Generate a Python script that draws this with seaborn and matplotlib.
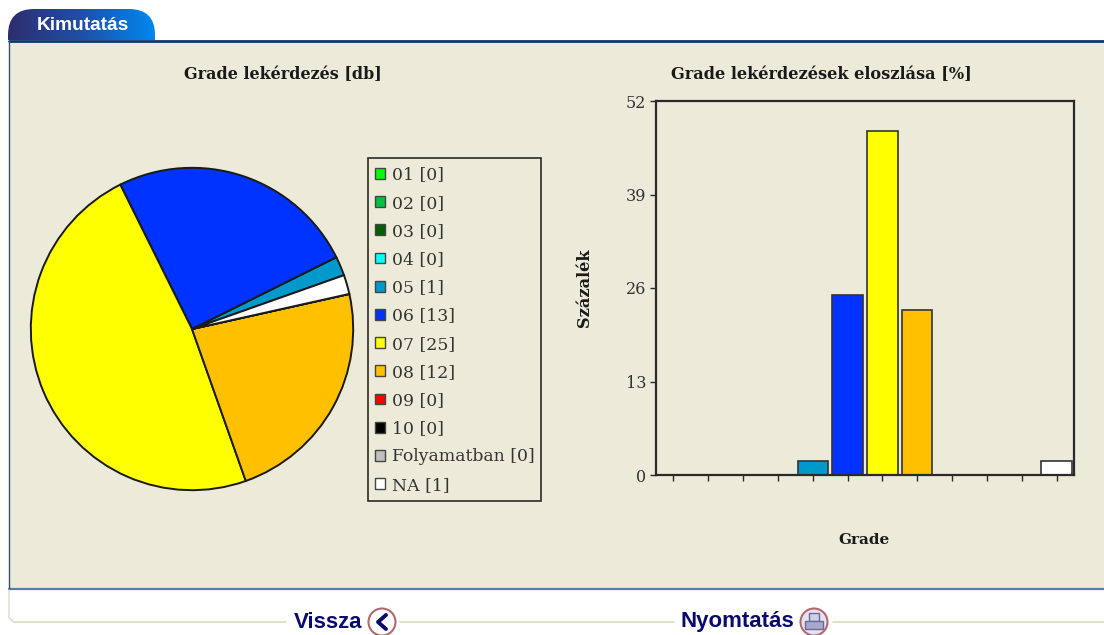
import numpy as np
import pandas as pd
import matplotlib
matplotlib.use('Agg')
import matplotlib.pyplot as plt
import seaborn as sns
from matplotlib.patches import Rectangle, FancyBboxPatch, Circle, Patch

sns.set_theme(style='white')
plt.rcParams['font.family'] = ['DejaVu Serif']

# data
grades = ['01', '02', '03', '04', '05', '06', '07', '08', '09', '10', 'Folyamatban', 'NA']
counts = [0, 0, 0, 0, 1, 13, 25, 12, 0, 0, 0, 1]
percents = [0, 0, 0, 0, 1.9, 25, 47.8, 22.9, 0, 0, 0, 1.9]
colors = ['#00ff00', '#00c040', '#006000', '#00ffff', '#0099cc', '#0033ff',
          '#ffff00', '#ffc000', '#ff0000', '#000000', '#c0c0c0', '#ffffff']
y_ticks = [0, 13, 26, 39, 52]

W, H = 1104, 635
PANEL = '#ecebd9'
DARK = '#2a2a2a'
LINK = '#0a0a6e'


def axes_px(fig, left, top, right, bottom):
    # axes from pixel box of the reference
    return fig.add_axes([left / W, 1 - bottom / H, (right - left) / W, (bottom - top) / H])


fig = plt.figure(figsize=(W / 100, H / 100), dpi=100, facecolor='white')

# page chrome in pixel coordinates
bg = fig.add_axes([0, 0, 1, 1])
bg.set_xlim(0, W)
bg.set_ylim(H, 0)
bg.axis('off')
bg.add_patch(Rectangle((9, 41), W, 548, fc=PANEL, ec='none'))
bg.plot([9, W], [40.5, 40.5], color='#0b3a70', lw=2)
bg.plot([9, W], [589, 589], color='#5f7aa3', lw=1.6)
bg.plot([9, 9], [41, 589], color='#34507a', lw=1)
bg.plot([9, 9, 14], [590, 618, 622], color='#dcdcc0', lw=1)
bg.plot([14, 286], [622, 622], color='#dcdcc0', lw=1.2)
bg.plot([400, 674], [622, 622], color='#dcdcc0', lw=1.2)
bg.plot([833, W], [622, 622], color='#dcdcc0', lw=1.2)

# tab with gradient, only the top corners are round
grad = np.linspace(0, 1, 256).reshape(1, -1)
tab_cmap = matplotlib.colors.LinearSegmentedColormap.from_list('tab', ['#2e2d6e', '#1f4fa8', '#0088f0'])
im = bg.imshow(grad, extent=(8, 155, 40, 9), cmap=tab_cmap, aspect='auto', zorder=2)
clip = FancyBboxPatch((8, 9), 147, 70, boxstyle='round,pad=0,rounding_size=26', fc='none', ec='none',
                      transform=bg.transData)
bg.add_patch(clip)
im.set_clip_path(clip)
bg.set_xlim(0, W)
bg.set_ylim(H, 0)
bg.text(83, 25, 'Kimutatás', color='white', fontsize=13.8, fontweight='bold',
        family='Liberation Sans', ha='center', va='center', zorder=3)

# footer links
bg.text(294, 622, 'Vissza', color=LINK, fontsize=16, fontweight='bold',
        family='Liberation Sans', ha='left', va='center')
bg.text(681, 621, 'Nyomtatás', color=LINK, fontsize=16, fontweight='bold',
        family='Liberation Sans', ha='left', va='center')
bg.add_patch(Circle((382, 622), 13.5, fc='white', ec='#b06a70', lw=1.5))
bg.plot([386, 378, 386], [615, 622, 629], color=LINK, lw=2.8)
bg.add_patch(Circle((814, 622), 13.5, fc='#e4e4f0', ec='#b06a70', lw=1.5))
bg.add_patch(Rectangle((809, 613), 10, 8, fc='#d0d0e4', ec='#6a6a9a', lw=1))
bg.add_patch(Rectangle((805, 621), 18, 8, fc='#a8a8cc', ec='#6a6a9a', lw=1))

# pie
ax1 = axes_px(fig, 30, 167, 354, 491)
ax1.patch.set_alpha(0)
wedges, _ = ax1.pie(counts, colors=colors, startangle=19.5, counterclock=True, radius=1,
                    wedgeprops=dict(edgecolor='#1a1a1a', linewidth=1.4))
ax1.set_xlim(-1.005, 1.005)
ax1.set_ylim(-1.005, 1.005)

bg.text(283, 75, 'Grade lekérdezés [db]', fontsize=11.5, fontweight='bold', color='#1a1a1a',
        ha='center', va='center')

# legend, frame drawn separately so it sits on the exact box
bg.add_patch(Rectangle((368, 157.5), 173, 343, fc='none', ec=DARK, lw=1.2))
handles = [Patch(fc=c, ec='#444444', lw=1) for c in colors]
labels = [f'{g} [{n}]' for g, n in zip(grades, counts)]
leg = fig.legend(handles, labels, loc='upper left',
                 bbox_to_anchor=(375 / W, 1 - 166.5 / H), bbox_transform=fig.transFigure,
                 fontsize=12.4, frameon=False, handlelength=0.6, handleheight=0.6, handletextpad=0.38,
                 labelspacing=0.65, borderpad=0, borderaxespad=0, labelcolor='#333333')

# bar chart
df = pd.DataFrame({'grade': grades, 'percent': percents})
ax2 = axes_px(fig, 656, 101, 1074, 475)
ax2.patch.set_alpha(0)
sns.barplot(data=df, x='grade', y='percent', hue='grade', palette=colors, order=grades,
            legend=False, width=0.87, saturation=1, edgecolor='#333333', linewidth=1.2, ax=ax2)
ax2.set_xlim(-0.5, 11.5)
ax2.set_ylim(0, 52)
ax2.set_yticks(y_ticks)
ax2.set_xticks(range(len(grades)))
ax2.set_xticklabels([])
ax2.tick_params(axis='both', length=4, width=1, color=DARK, bottom=True, left=True)
ax2.tick_params(axis='y', labelsize=11.5, labelcolor='#333333', pad=3)
ax2.set_xlabel('')
ax2.set_ylabel('')
for s in ax2.spines.values():
    s.set_color(DARK)
    s.set_linewidth(1.6)

bg.text(821, 75, 'Grade lekérdezések eloszlása [%]', fontsize=11.6, fontweight='bold', color='#1a1a1a',
        ha='center', va='center')
bg.text(584, 288, 'Százalék', fontsize=11.6, fontweight='bold', color='#1a1a1a',
        rotation=90, ha='center', va='center')
bg.text(864, 540, 'Grade', fontsize=11, fontweight='bold', color='#1a1a1a',
        ha='center', va='center')

plt.savefig('out.png', dpi=100)
